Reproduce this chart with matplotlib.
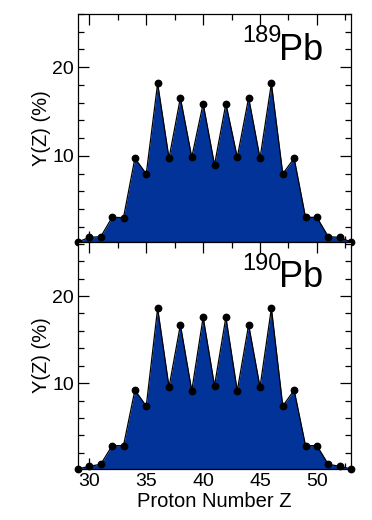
import matplotlib
matplotlib.use("Agg")
import matplotlib.pyplot as plt
from matplotlib.ticker import MultipleLocator

plt.rcParams['font.family'] = ['Liberation Sans', 'DejaVu Sans']

# Charge (proton number) yields for fission of two lead isotopes
Z = list(range(29, 54))
yield_189 = [0.3, 0.83, 0.9, 3.08, 3.05, 9.74, 7.98, 18.17, 9.74, 16.56, 9.85,
             15.9, 8.99, 15.9, 9.85, 16.56, 9.74, 18.17, 7.98, 9.74, 3.08, 3.08,
             0.9, 0.83, 0.3]
yield_190 = [0.16, 0.46, 0.69, 2.83, 2.83, 9.2, 7.37, 18.6, 9.55, 16.69, 9.13,
             17.57, 9.7, 17.57, 9.13, 16.69, 9.55, 18.6, 7.37, 9.2, 2.83, 2.83,
             0.69, 0.46, 0.16]
mass_numbers = ["189", "190"]
y_limits = [(0.3, 26.0), (0.15, 26.2)]

fill_color = "#023399"

fig = plt.figure(figsize=(3.72, 5.2), dpi=100)
ax_top = fig.add_axes([0.2097, 0.5346, 0.7339, 0.4385])
ax_bot = fig.add_axes([0.2097, 0.0981, 0.7339, 0.4365])

for ax, yields, A, ylim in zip([ax_top, ax_bot], [yield_189, yield_190],
                               mass_numbers, y_limits):
    ax.fill_between(Z, yields, ylim[0], color=fill_color, lw=0, zorder=1)
    ax.plot(Z, yields, color="black", lw=0.9, marker="o", ms=4.6,
            clip_on=False, zorder=3)
    ax.set_xlim(29, 53)
    ax.set_ylim(*ylim)
    ax.set_axisbelow(True)
    ax.xaxis.set_major_locator(MultipleLocator(5))
    ax.xaxis.set_minor_locator(MultipleLocator(2.5))
    ax.yaxis.set_major_locator(MultipleLocator(10))
    ax.yaxis.set_minor_locator(MultipleLocator(2))
    ax.tick_params(which="both", direction="in", top=True, right=True,
                   width=0.9, labelsize=14, pad=3)
    ax.tick_params(which="major", length=8)
    ax.tick_params(which="minor", length=4.5)
    for sp in ax.spines.values():
        sp.set_linewidth(0.9)
    ax.set_ylabel("Y(Z) (%)", fontsize=14.5, labelpad=1)
    ax.text(0.897, 0.800, "Pb", transform=ax.transAxes, ha="right",
            va="baseline", fontsize=26)
    ax.text(0.745, 0.878, A, transform=ax.transAxes, ha="right",
            va="baseline", fontsize=17)

ax_top.tick_params(labelbottom=False)
ax_bot.set_xlabel("Proton Number Z", fontsize=14.5, labelpad=1)

fig.savefig("out.png", dpi=100)
